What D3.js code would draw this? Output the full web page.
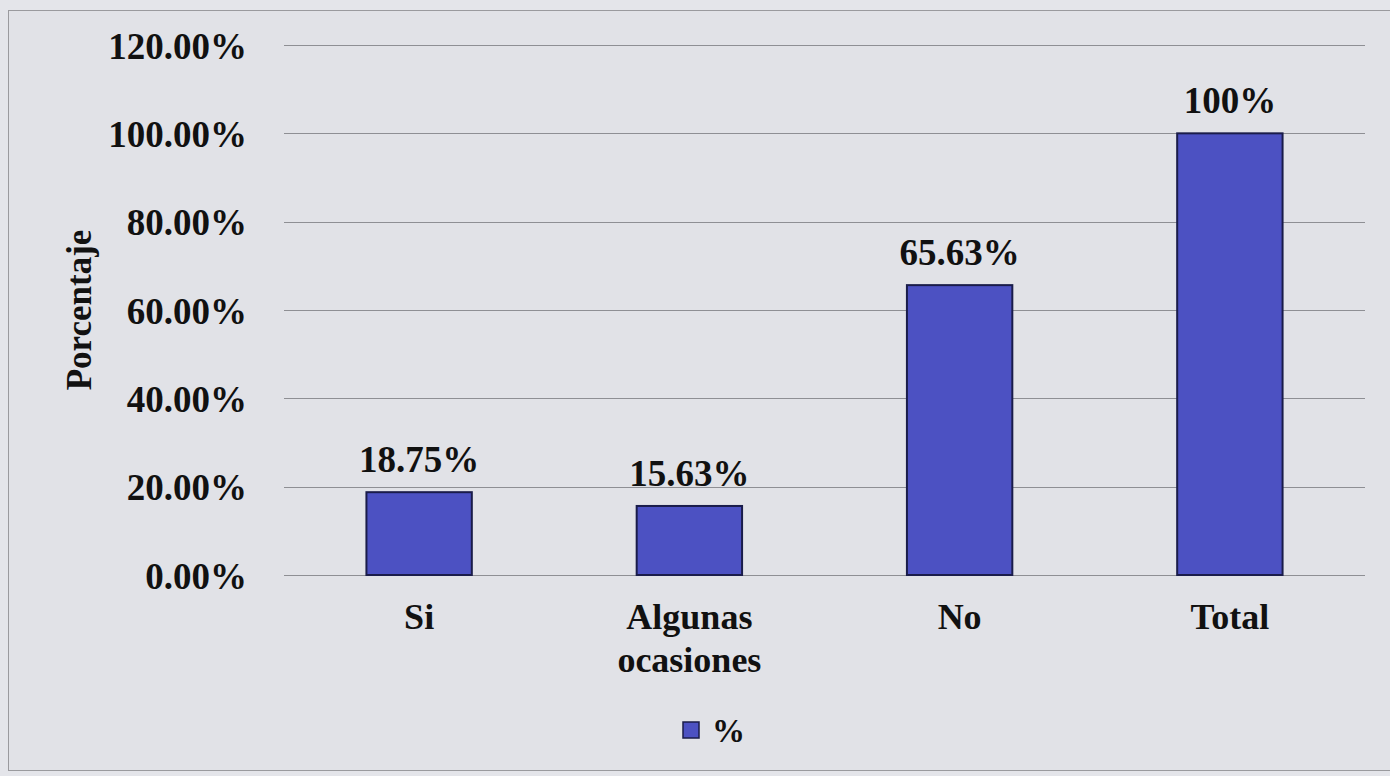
<!DOCTYPE html>
<html>
<head>
<meta charset="utf-8">
<script src="https://cdn.jsdelivr.net/npm/d3@7"></script>
<style>
  html, body { margin: 0; padding: 0; background: #e4e5ea; }
  svg { display: block; }
  text { font-family: "Liberation Serif", "Times New Roman", serif; font-weight: bold; fill: #111; }
</style>
</head>
<body>
<svg id="chart" width="1390" height="776"></svg>
<script>
// Responses and their share of the total
const categories = [["Si"], ["Algunas", "ocasiones"], ["No"], ["Total"]];
const values = [18.75, 15.63, 65.63, 100];
const valueLabels = ["18.75%", "15.63%", "65.63%", "100%"];
const yTicks = [0, 20, 40, 60, 80, 100, 120];
const seriesName = "%";

const svg = d3.select("#chart");
const W = 1390, H = 776;
const margin = { left: 284, right: 25, top: 45, bottom: 201 };
const fontSize = 37;

// Outer frame
svg.append("rect")
  .attr("x", 8.5).attr("y", 10.5)
  .attr("width", W + 10).attr("height", H - 16)
  .attr("fill", "#e1e2e7")
  .attr("stroke", "#9a9a9e").attr("stroke-width", 1);

const x = d3.scaleBand()
  .domain(d3.range(categories.length))
  .range([margin.left, W - margin.right])
  .padding(0);

const y = d3.scaleLinear()
  .domain([0, 120])
  .range([H - margin.bottom, margin.top]);

// Gridlines
svg.append("g")
  .selectAll("line")
  .data(yTicks)
  .join("line")
  .attr("x1", margin.left).attr("x2", W - margin.right)
  .attr("y1", d => Math.round(y(d)) + 0.5).attr("y2", d => Math.round(y(d)) + 0.5)
  .attr("stroke", "#8e8f94").attr("stroke-width", 1);

// Y-axis tick labels
const yAxis = d3.axisLeft(y)
  .tickValues(yTicks)
  .tickFormat(d => d.toFixed(2) + "%")
  .tickSize(0)
  .tickPadding(0);
const gy = svg.append("g")
  .attr("transform", `translate(${margin.left - 37},0)`)
  .call(yAxis);
gy.select(".domain").remove();
gy.selectAll("text")
  .attr("font-size", fontSize)
  .attr("dy", "0.36em")
  .style("font-family", "'Liberation Serif', serif")
  .style("font-weight", "bold")
  .attr("fill", "#111");

// Axis title
svg.append("text")
  .attr("transform", `translate(91,${y(60)}) rotate(-90)`)
  .attr("text-anchor", "middle")
  .attr("font-size", 35)
  .text("Porcentaje");

// Bars
const barW = x.bandwidth() * 0.39;
svg.append("g")
  .selectAll("rect")
  .data(values)
  .join("rect")
  .attr("x", (d, i) => x(i) + (x.bandwidth() - barW) / 2)
  .attr("y", d => y(d))
  .attr("width", barW)
  .attr("height", d => y(0) - y(d))
  .attr("fill", "#4c51c2")
  .attr("stroke", "#1a1c4a").attr("stroke-width", 2);

// Value labels
svg.append("g")
  .selectAll("text")
  .data(values)
  .join("text")
  .attr("x", (d, i) => x(i) + x.bandwidth() / 2)
  .attr("y", d => y(d) - 20)
  .attr("text-anchor", "middle")
  .attr("font-size", fontSize)
  .text((d, i) => valueLabels[i]);

// Category labels
const cat = svg.append("g")
  .selectAll("text")
  .data(categories)
  .join("text")
  .attr("x", (d, i) => x(i) + x.bandwidth() / 2)
  .attr("y", y(0) + 54)
  .attr("text-anchor", "middle")
  .attr("font-size", 36);
cat.selectAll("tspan")
  .data((d, i) => d.map(t => ({ t, i })))
  .join("tspan")
  .attr("x", d => x(d.i) + x.bandwidth() / 2)
  .attr("dy", (d, j) => j === 0 ? 0 : 43)
  .text(d => d.t);

// Legend
const lg = svg.append("g").attr("transform", "translate(683,722)");
lg.append("rect")
  .attr("width", 16).attr("height", 16)
  .attr("fill", "#4c51c2")
  .attr("stroke", "#1a1c4a").attr("stroke-width", 1.5);
lg.append("text")
  .attr("x", 29).attr("y", 8)
  .attr("dy", "0.36em")
  .attr("font-size", 33)
  .text(seriesName);
</script>
</body>
</html>
